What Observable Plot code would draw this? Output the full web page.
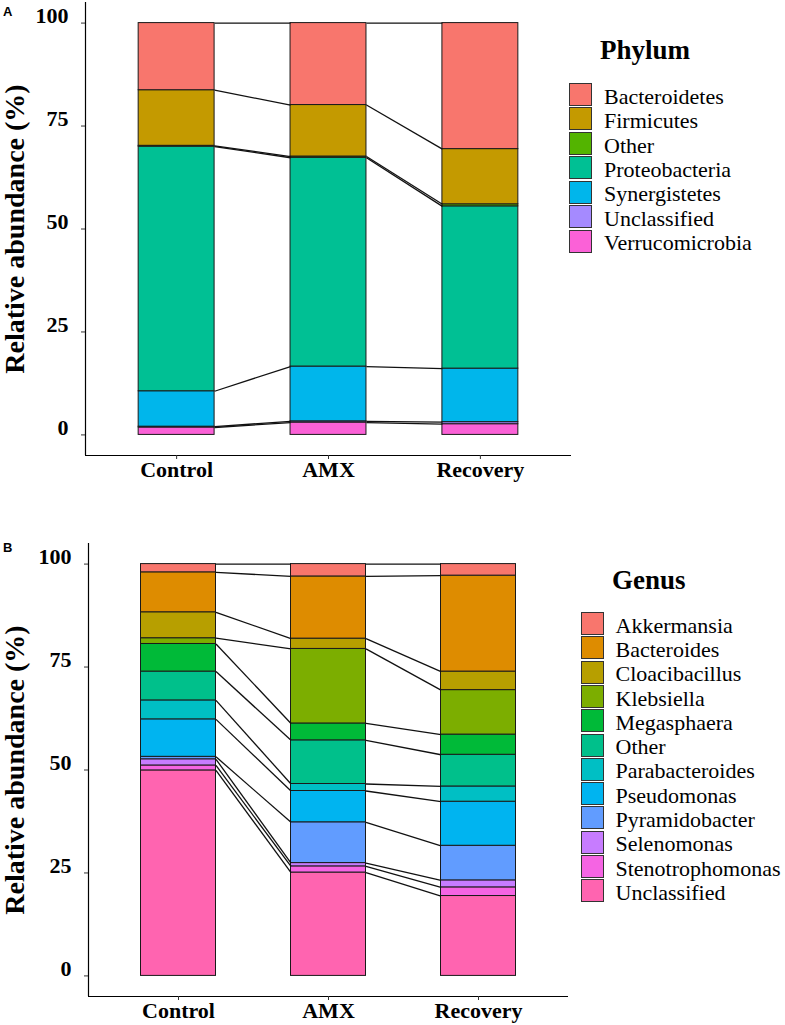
<!DOCTYPE html>
<html>
<head>
<meta charset="utf-8">
<script src="https://cdn.jsdelivr.net/npm/d3@7"></script>
<script src="https://cdn.jsdelivr.net/npm/@observablehq/plot@0.6"></script>
<style>
  body { margin: 0; background: #fff; }
  #root { position: relative; width: 785px; height: 1025px; overflow: hidden; background: #fff;
          font-family: "Liberation Serif", "Times New Roman", serif; color: #000; }
  .panel { position: absolute; left: 0; }
  .plabel { position: absolute; font-family: "Liberation Sans", Arial, sans-serif; font-weight: bold;
            font-size: 13px; line-height: 13px; }
  .ytitle { position: absolute; font-weight: bold; font-size: 28px; line-height: 22px; white-space: nowrap;
            transform: translate(-50%, -50%) rotate(-90deg); }
  .ltitle { position: absolute; font-weight: bold; font-size: 27px; line-height: 27px; white-space: nowrap; }
  .key { position: absolute; box-sizing: border-box; width: 23px; height: 23px; border: 1.5px solid #333; }
  .ltext { position: absolute; font-size: 22px; line-height: 22px; white-space: nowrap; }
</style>
</head>
<body>
<div id="root"></div>
<script>
// ---------- DATA ----------
const groups = ["Control", "AMX", "Recovery"];
const yTicks = [0, 25, 50, 75, 100];
const yLabel = "Relative abundance (%)";

// Panel A: Phylum (listed top of stack -> bottom of stack)
const phyla = ["Bacteroidetes", "Firmicutes", "Other", "Proteobacteria", "Synergistetes", "Unclassified", "Verrucomicrobia"];
const phylumColors = ["#F8766D", "#C49A00", "#53B400", "#00C094", "#00B6EB", "#A58AFF", "#FB61D7"];
const phylumControl  = [16.3, 13.5, 0.2, 59.4, 8.6, 0.2, 1.8];
const phylumAMX      = [19.9, 12.5, 0.3, 50.7, 13.3, 0.3, 3.0];
const phylumRecovery = [30.6, 13.4, 0.5, 39.4, 13.0, 0.5, 2.6];

// Panel B: Genus
const genera = ["Akkermansia", "Bacteroides", "Cloacibacillus", "Klebsiella", "Megasphaera", "Other",
                "Parabacteroides", "Pseudomonas", "Pyramidobacter", "Selenomonas", "Stenotrophomonas", "Unclassified"];
const genusColors = ["#F8766D", "#DE8C00", "#B79F00", "#7CAE00", "#00BA38", "#00C08B",
                     "#00BFC4", "#00B4F0", "#619CFF", "#C77CFF", "#F564E3", "#FF64B0"];
const genusControl  = [2.0, 9.7, 6.3, 1.4, 6.7, 7.0, 4.6, 9.1, 0.6, 1.5, 1.2, 49.9];
const genusAMX      = [3.0, 15.1, 2.5, 18.1, 4.1, 10.6, 1.7, 7.6, 9.9, 0.8, 1.5, 25.1];
const genusRecovery = [2.8, 23.3, 4.5, 10.8, 4.9, 7.7, 3.7, 10.7, 8.4, 1.7, 2.1, 19.4];

// ---------- BUILD ----------
const root = document.getElementById("root");
const halfBar = 0.25;
const xDomain = [-0.6, groups.length - 1 + 0.6];
const yDomain = [-5, 105];
const serif = '"Liberation Serif", "Times New Roman", serif';

function buildPanel({cats, colors, values, top, height, mt, mb, ml, mr}) {
  const rows = [];
  groups.forEach((g, gi) => {
    let cum = 0;
    for (let k = cats.length - 1; k >= 0; k--) {
      const v = values[gi][k];
      rows.push({group: g, gi, cat: cats[k], y1: cum, y2: cum + v});
      cum += v;
    }
  });
  const links = [];
  cats.forEach(c => {
    for (let i = 0; i < groups.length - 1; i++) {
      const a = rows.find(r => r.gi === i && r.cat === c);
      const b = rows.find(r => r.gi === i + 1 && r.cat === c);
      links.push({x1: i + halfBar, y1: a.y2, x2: i + 1 - halfBar, y2: b.y2});
    }
  });
  const svg = Plot.plot({
    width: 785, height,
    marginTop: mt, marginBottom: mb, marginLeft: ml, marginRight: mr,
    x: {type: "linear", domain: xDomain},
    y: {domain: yDomain},
    color: {domain: cats, range: colors},
    style: {fontFamily: serif, background: "transparent", overflow: "visible", color: "#000"},
    marks: [
      Plot.rect(rows, {x1: d => d.gi - halfBar, x2: d => d.gi + halfBar, y1: "y1", y2: "y2",
                       fill: "cat", stroke: "#1a1a1a", strokeWidth: 1}),
      Plot.link(links, {x1: "x1", y1: "y1", x2: "x2", y2: "y2", stroke: "#111", strokeWidth: 1.3}),
      Plot.ruleX([xDomain[0]], {stroke: "#000", strokeWidth: 1.2}),
      Plot.ruleY([yDomain[0]], {stroke: "#000", strokeWidth: 1.2}),
      Plot.axisY({ticks: yTicks, tickSize: 4, text: null, label: null, stroke: "#333"}),
      Plot.axisY({ticks: yTicks, tickSize: 0, tickPadding: 17, dy: -7, label: null,
                  fontSize: 22, fontWeight: "bold", fill: "#000"}),
      Plot.axisX({ticks: groups.map((g, i) => i), tickFormat: i => groups[i], tickSize: 4, tickPadding: 2,
                  label: null, stroke: "#333", fontSize: 22, fontWeight: "bold", fill: "#000"})
    ]
  });
  const wrap = document.createElement("div");
  wrap.className = "panel";
  wrap.style.top = top + "px";
  wrap.appendChild(svg);
  root.appendChild(wrap);
}

function addText(cls, text, left, top, extra) {
  const d = document.createElement("div");
  d.className = cls;
  d.textContent = text;
  d.style.left = left + "px";
  d.style.top = top + "px";
  if (extra) Object.assign(d.style, extra);
  root.appendChild(d);
  return d;
}

function buildLegend({title, cats, colors, titleLeft, titleBaseline, keyLeft, keyTop, step}) {
  addText("ltitle", title, titleLeft, titleBaseline - 22.6);
  cats.forEach((c, i) => {
    const k = document.createElement("div");
    k.className = "key";
    k.style.left = keyLeft + "px";
    k.style.top = (keyTop + i * step) + "px";
    k.style.background = colors[i];
    root.appendChild(k);
    addText("ltext", c, keyLeft + 35, keyTop + i * step + 21 - 18.4);
  });
}

buildPanel({cats: phyla, colors: phylumColors,
            values: [phylumControl, phylumAMX, phylumRecovery],
            top: 0, height: 505, mt: 2, mb: 50, ml: 85, mr: 214});
buildPanel({cats: genera, colors: genusColors,
            values: [genusControl, genusAMX, genusRecovery],
            top: 520, height: 505, mt: 23, mb: 29, ml: 88, mr: 217});

addText("plabel", "A", 3, 5);
addText("plabel", "B", 3, 541);
addText("ytitle", yLabel, 15, 228.5);
addText("ytitle", yLabel, 15, 769.5);

buildLegend({title: "Phylum", cats: phyla, colors: phylumColors,
             titleLeft: 600, titleBaseline: 60, keyLeft: 569, keyTop: 83, step: 24.45});
buildLegend({title: "Genus", cats: genera, colors: genusColors,
             titleLeft: 612, titleBaseline: 590, keyLeft: 580.5, keyTop: 612, step: 24.3});
</script>
</body>
</html>
